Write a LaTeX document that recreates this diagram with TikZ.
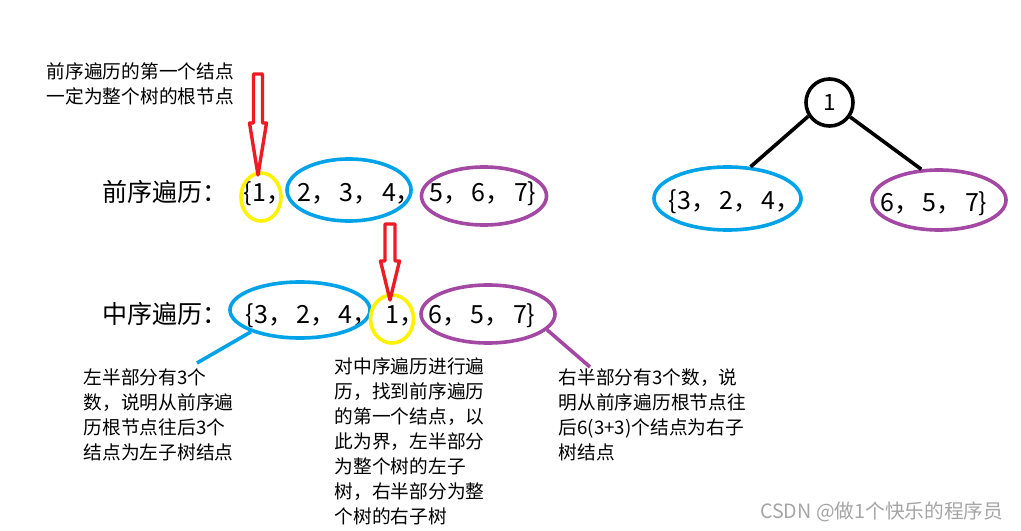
\documentclass[tikz,border=0pt]{standalone}
\usepackage{fontspec}
\setmainfont{Noto Sans CJK SC}
\usepackage{tikz}
\usetikzlibrary{shapes.geometric}

\definecolor{amarillo}{RGB}{255,242,0}
\definecolor{azul}{RGB}{0,162,232}
\definecolor{morado}{RGB}{163,73,164}
\definecolor{rojo}{RGB}{237,28,36}
\definecolor{gris}{RGB}{165,165,165}

\newcommand{\dou}{，\hspace{0.08cm}}

\begin{document}
\begin{tikzpicture}[
    x=0.025cm, y=-0.025cm,
    every path/.style={line width=0.09cm}
]
    \tikzset{
        rotulo/.style={font=\fontsize{17.8}{21}\selectfont, anchor=base west, inner sep=0pt},
        nota/.style={font=\fontsize{13.3}{17.8}\selectfont, align=left, anchor=north west, inner sep=0pt},
        grupo/.style={ellipse, draw, inner sep=0pt},
        flecha/.style={draw=rojo, line width=0.085cm, line join=round}
    }
    \useasboundingbox (0,0) rectangle (1021,531);

    % Rotulos
    \node[rotulo] (pre) at (101,202) {前序遍历：};
    \node[rotulo] (in)  at (101,323) {中序遍历：};

    % Secuencias
    \node[rotulo] (p1)   at (242,202) {\{1，};
    \node[rotulo] (p234) at (296,202) {2\dou 3\dou 4，};
    \node[rotulo] (p567) at (428,202) {5\dou 6\dou 7\}};
    \node[rotulo] (i324) at (244,323) {\{3\dou 2\dou 4，};
    \node[rotulo] (i1)   at (384,323) {1，};
    \node[rotulo] (i657) at (427,323) {6\dou 5\dou 7\}};

    % Elipses
    \node[grupo, draw=amarillo, minimum width=1.0cm,   minimum height=1.2cm]  (ePre1) at (261,197) {};
    \node[grupo, draw=azul,     minimum width=3.1cm,   minimum height=1.55cm] (ePreL) at (349,190) {};
    \node[grupo, draw=morado,   minimum width=3.125cm, minimum height=1.45cm] (ePreR) at (484,196) {};
    \node[grupo, draw=azul,     minimum width=3.5cm,   minimum height=1.4cm]  (eInL)  at (300,310) {};
    \node[grupo, draw=amarillo, minimum width=1.075cm, minimum height=1.2cm]  (eIn1)  at (392,319) {};
    \node[grupo, draw=morado,   minimum width=3.35cm,  minimum height=1.45cm] (eInR)  at (488,314) {};

    % Arbol
    \node[circle, draw, minimum size=1.175cm, inner sep=0pt,
          font=\fontsize{16}{18}\selectfont] (raiz) at (829.5,102.5) {1};
    \node[rotulo] (tIzq) at (667,210) {\{3\dou 2\dou 4，};
    \node[rotulo] (tDer) at (879,212) {6\dou 5\dou 7\}};
    \node[grupo, draw=azul,   minimum width=3.675cm, minimum height=1.575cm] (izq) at (727.5,198.5) {};
    \node[grupo, draw=morado, minimum width=3.35cm,  minimum height=1.5cm]   (der) at (939,200) {};
    \draw (raiz.213) -- (izq.54);
    \draw (raiz.-35) -- (der.120);

    % Notas
    \node[nota] (nRaiz) at (45,61) {前序遍历的第一个结点\\一定为整个树的根节点};
    \node[nota] (nIzq) at (82,367) {左半部分有3个\\数，说明从前序遍\\历根节点往后3个\\结点为左子树结点};
    \node[nota] (nCentro) at (333,356) {对中序遍历进行遍\\历，找到前序遍历\\的第一个结点，以\\此为界，左半部分\\为整个树的左子\\树，右半部分为整\\个树的右子树};
    \node[nota] (nDer) at (557,367) {右半部分有3个数，说\\明从前序遍历根节点往\\后6(3+3)个结点为右子\\树结点};
    \node[font=\fontsize{14}{16}\selectfont, text=gris, anchor=base east, inner sep=0pt]
        (marca) at (1005,518) {CSDN @做1个快乐的程序员};

    \coordinate (cIzq) at (197,363);
    \coordinate (cDer) at (590,367);
    \draw[azul]   (eInL.-156) -- (cIzq);
    \draw[morado] (eInR.-15) -- (cDer);

    % Flechas
    \draw[flecha, shift={(258,74)}] (-4.5,0) -- (-4.5,49) -- (-8.5,49) -- (0,101)
        -- (8.5,49) -- (4.5,49) -- (4.5,0) -- cycle;
    \draw[flecha, shift={(390,224)}] (-5,0) -- (-5,37) -- (-9.5,37) -- (0,76)
        -- (9.5,37) -- (5,37) -- (5,0) -- cycle;
\end{tikzpicture}
\end{document}
